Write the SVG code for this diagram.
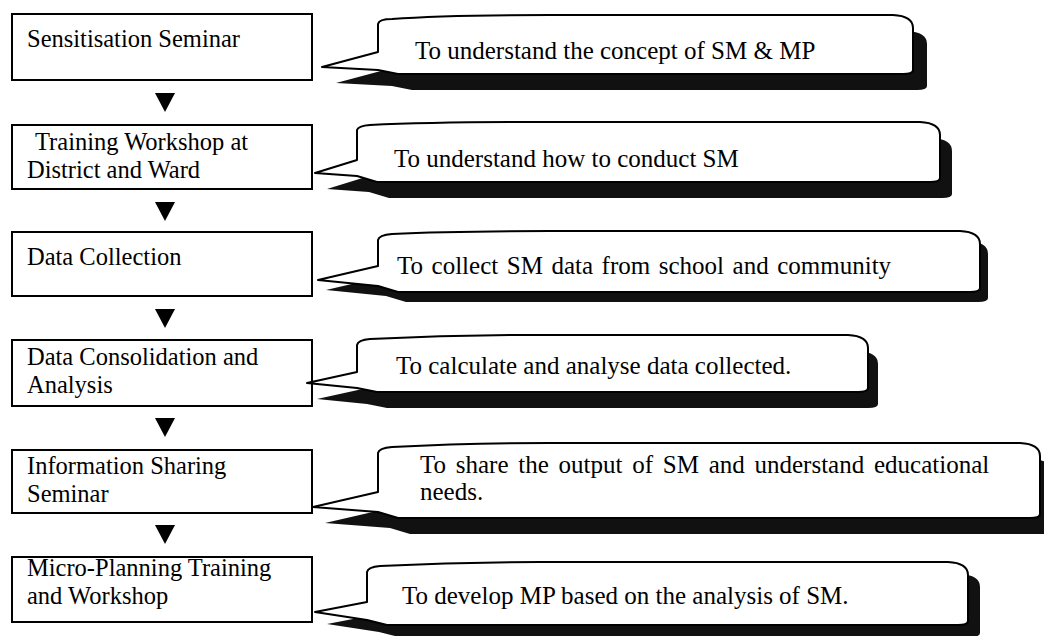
<svg xmlns="http://www.w3.org/2000/svg" width="1044" height="636" viewBox="0 0 1044 636">
  <style>
    .box { fill: #fff; stroke: #000; stroke-width: 2; }
    .call { fill: #fff; stroke: #000; stroke-width: 2; stroke-linejoin: round; }
    .shadow { fill: #111; }
    .arrow { fill: #000; }
    .lbl { font-family: "Liberation Serif", "Times New Roman", serif; font-size: 24.5px; fill: #000; }
    .note { font-family: "Liberation Serif", "Times New Roman", serif; font-size: 25px; fill: #000; }
  </style>
  <rect width="1044" height="636" fill="#fff"/>

  <!-- flow arrows between the steps -->
  <g id="connectors">
    <path class="arrow" d="M155,93 L175,93 L165,112 Z"/>
    <path class="arrow" d="M155,202 L175,202 L165,221 Z"/>
    <path class="arrow" d="M155,309 L175,309 L165,328 Z"/>
    <path class="arrow" d="M155,418 L175,418 L165,437 Z"/>
    <path class="arrow" d="M155,525 L175,525 L165,544 Z"/>
  </g>

  <!-- step boxes -->
  <g id="step1">
    <rect class="box" x="12" y="14" width="300" height="66"/>
    <text class="lbl" x="27" y="47">Sensitisation Seminar</text>
  </g>
  <g id="step2">
    <rect class="box" x="12" y="125" width="300" height="64"/>
    <text class="lbl" x="35" y="150">Training Workshop at</text>
    <text class="lbl" x="27" y="178">District and Ward</text>
  </g>
  <g id="step3">
    <rect class="box" x="12" y="232" width="300" height="64"/>
    <text class="lbl" x="27" y="265">Data Collection</text>
  </g>
  <g id="step4">
    <rect class="box" x="12" y="340" width="300" height="66"/>
    <text class="lbl" x="27" y="365">Data Consolidation and</text>
    <text class="lbl" x="27" y="393">Analysis</text>
  </g>
  <g id="step5">
    <rect class="box" x="12" y="450" width="300" height="63"/>
    <text class="lbl" x="27" y="474">Information Sharing</text>
    <text class="lbl" x="27" y="502">Seminar</text>
  </g>
  <g id="step6">
    <rect class="box" x="12" y="557" width="300" height="65"/>
    <text class="lbl" x="27" y="576">Micro-Planning Training</text>
    <text class="lbl" x="27" y="604">and Workshop</text>
  </g>

  <!-- callouts with extruded shadows -->
  <g id="note1">
    <path class="shadow" transform="translate(14,16)" d="M322,67 L378,52 L378,24 Q379,19 392,19 C430,16 470,15 550,15 L893,15 Q913,16 913,28 L913,70 Q913,74 903,74 L398,74 L378,70 Z"/>
    <path class="call" d="M322,67 L378,52 L378,24 Q379,19 392,19 C430,16 470,15 550,15 L893,15 Q913,16 913,28 L913,70 Q913,74 903,74 L398,74 L378,70 Z"/>
    <text class="note" x="415" y="59">To understand the concept of SM &amp; MP</text>
  </g>
  <g id="note2">
    <path class="shadow" transform="translate(12,16)" d="M315,173 L357,160 L357,130 Q358,126 370,125 C410,123 450,122 530,122 L920,122 Q940,123 940,135 L940,178 Q940,182 930,182 L377,182 L357,176 Z"/>
    <path class="call" d="M315,173 L357,160 L357,130 Q358,126 370,125 C410,123 450,122 530,122 L920,122 Q940,123 940,135 L940,178 Q940,182 930,182 L377,182 L357,176 Z"/>
    <text class="note" x="394" y="167">To understand how to conduct SM</text>
  </g>
  <g id="note3">
    <path class="shadow" transform="translate(8,10)" d="M318,280 L378,266 L378,240 Q379,235 392,234 C430,232 470,231 550,231 L960,231 Q980,232 980,244 L980,288 Q980,292 970,292 L398,292 L378,286 Z"/>
    <path class="call" d="M318,280 L378,266 L378,240 Q379,235 392,234 C430,232 470,231 550,231 L960,231 Q980,232 980,244 L980,288 Q980,292 970,292 L398,292 L378,286 Z"/>
    <text class="note" x="397" y="274" word-spacing="2.3">To collect SM data from school and community</text>
  </g>
  <g id="note4">
    <path class="shadow" transform="translate(10,16)" d="M307,383 L357,372 L357,345 Q358,340 370,339 C410,337 450,335 530,335 L848,335 Q868,336 868,348 L868,388 Q868,392 858,392 L377,392 L357,388 Z"/>
    <path class="call" d="M307,383 L357,372 L357,345 Q358,340 370,339 C410,337 450,335 530,335 L848,335 Q868,336 868,348 L868,388 Q868,392 858,392 L377,392 L357,388 Z"/>
    <text class="note" x="396" y="374">To calculate and analyse data collected.</text>
  </g>
  <g id="note5">
    <path class="shadow" transform="translate(12,16)" d="M313,507 L378,492 L378,453 Q379,448 392,447 C430,445 470,443 550,443 L1020,443 Q1040,444 1040,456 L1040,514 Q1040,518 1030,518 L398,518 L378,512 Z"/>
    <path class="call" d="M313,507 L378,492 L378,453 Q379,448 392,447 C430,445 470,443 550,443 L1020,443 Q1040,444 1040,456 L1040,514 Q1040,518 1030,518 L398,518 L378,512 Z"/>
    <text class="note" x="420" y="473" word-spacing="3.5">To share the output of SM and understand educational</text>
    <text class="note" x="420" y="500">needs.</text>
  </g>
  <g id="note6">
    <path class="shadow" transform="translate(12,12)" d="M315,612 L367,602 L367,572 Q368,567 380,566 C420,564 460,562 540,562 L948,562 Q968,563 968,575 L968,621 Q968,625 958,625 L387,625 L367,620 Z"/>
    <path class="call" d="M315,612 L367,602 L367,572 Q368,567 380,566 C420,564 460,562 540,562 L948,562 Q968,563 968,575 L968,621 Q968,625 958,625 L387,625 L367,620 Z"/>
    <text class="note" x="402" y="604">To develop MP based on the analysis of SM.</text>
  </g>
</svg>
